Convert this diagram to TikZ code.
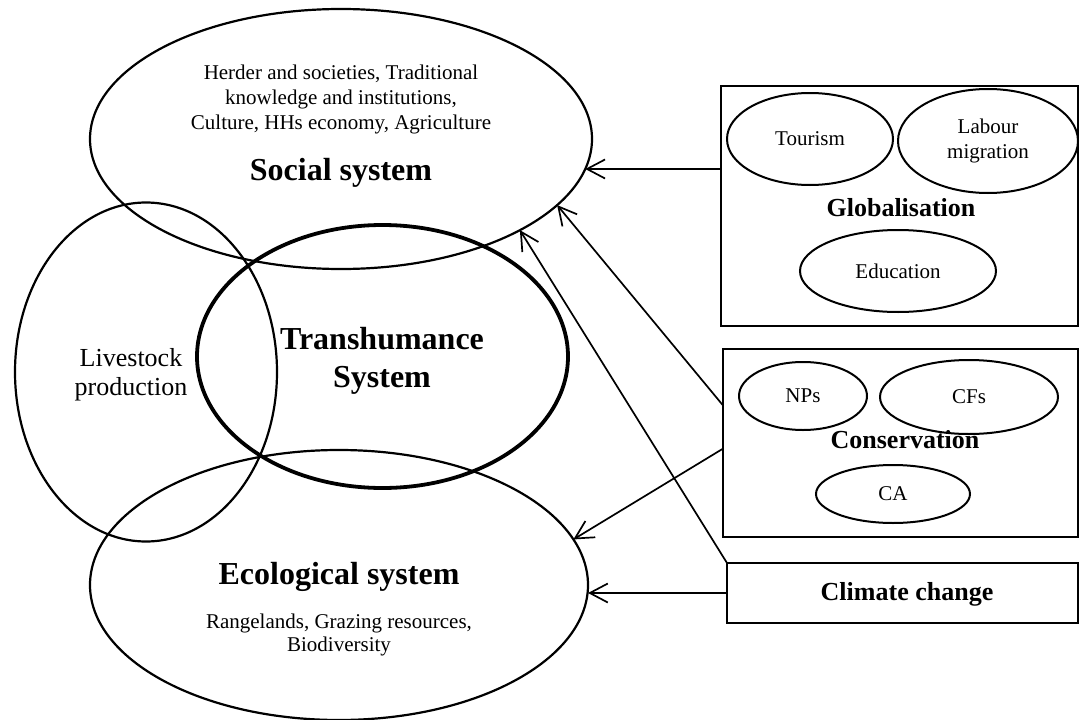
\documentclass[tikz,border=0pt]{standalone}
\usepackage{fontspec}
\setmainfont{Liberation Serif}
\usepackage{tikz}
\usetikzlibrary{arrows.meta,positioning,calc,shapes.geometric}
\tikzset{
  sysell/.style={ellipse, draw=black, line width=2.2pt, inner sep=0pt, outer sep=0pt},
  subell/.style={ellipse, draw=black, line width=2pt, inner sep=0pt, outer sep=0pt, align=center, font=\fontsize{21}{25}\selectfont},
  drvbox/.style={draw=black, line width=2.7pt, inner sep=0pt, outer sep=0pt},
  drvtitle/.style={anchor=base, inner sep=0pt, font=\fontsize{26}{30}\selectfont\bfseries},
  systitle/.style={anchor=base, inner sep=0pt, align=center, font=\fontsize{32}{38}\selectfont\bfseries},
  desc/.style={anchor=base, inner sep=0pt, align=center, font=\fontsize{21}{25}\selectfont},
  arr/.style={-{Straight Barb[length=18pt,width=19pt]}, line width=1.7pt}
}

\begin{document}
\begin{tikzpicture}[x=1pt, y=-1pt]
\useasboundingbox (0,0) rectangle (1080,720);

% the four systems
\node[sysell, minimum width=502pt, minimum height=260pt] (soc) at (341,139) {};
\node[sysell, minimum width=262pt, minimum height=339pt] (live) at (146,372) {};
\node[sysell, line width=3.8pt, minimum width=371pt, minimum height=263pt] (trans) at (382.5,356.5) {};
\node[sysell, minimum width=498pt, minimum height=270pt] (eco) at (339,585) {};

% texts (base = last line)
\node[desc] (socdesc) at (341,129) {Herder and societies, Traditional\\knowledge and institutions,\\Culture, HHs economy, Agriculture};
\node[systitle] (socT) at (341,180) {Social system};
\node[desc, font=\fontsize{26}{29}\selectfont] (liveT) at (131,395) {Livestock\\production};
\node[systitle] (transT) at (382,387) {Transhumance\\System};
\node[systitle] (ecoT) at (339,584) {Ecological system};
\node[desc, font=\fontsize{21}{23}\selectfont] (ecodesc) at (339,651) {Rangelands, Grazing resources,\\Biodiversity};

% drivers
\node[drvbox, minimum width=357pt, minimum height=240pt] (glob) at (899.5,206) {};
\node[subell, minimum width=166pt, minimum height=92pt] (tour) at (810,139) {Tourism};
\node[subell, minimum width=180pt, minimum height=104pt] (lab) at (988,141) {Labour\\migration};
\node[subell, minimum width=196pt, minimum height=82pt] (edu) at (898,271) {Education};
\node[drvtitle] (globT) at (901,216) {Globalisation};

\node[drvbox, minimum width=355pt, minimum height=188pt] (cons) at (900.5,443) {};
\node[subell, minimum width=128pt, minimum height=68pt] (nps) at (803,396) {NPs};
\node[subell, minimum width=178pt, minimum height=74pt] (cfs) at (969,397) {CFs};
\node[subell, minimum width=154pt, minimum height=58pt] (ca) at (893,494) {CA};
\node[drvtitle] (consT) at (905,448) {Conservation};

\node[drvbox, minimum width=351pt, minimum height=60pt] (clim) at (902.5,593) {};
\node[drvtitle] (climT) at (907,600) {Climate change};

% influences
\draw[arr] (glob.west |- soc.-7.2) -- (soc.-7.2);
\draw[arr] ($(cons.north west)!0.3!(cons.south west)$) -- (soc.-17.6);
\draw[arr] ($(cons.north west)!0.53!(cons.south west)$) -- (eco.11.5);
\draw[arr] (clim.north west) -- (soc.-27.3);
\draw[arr] (clim.west) -- (clim.west -| eco.east);
\end{tikzpicture}
\end{document}
